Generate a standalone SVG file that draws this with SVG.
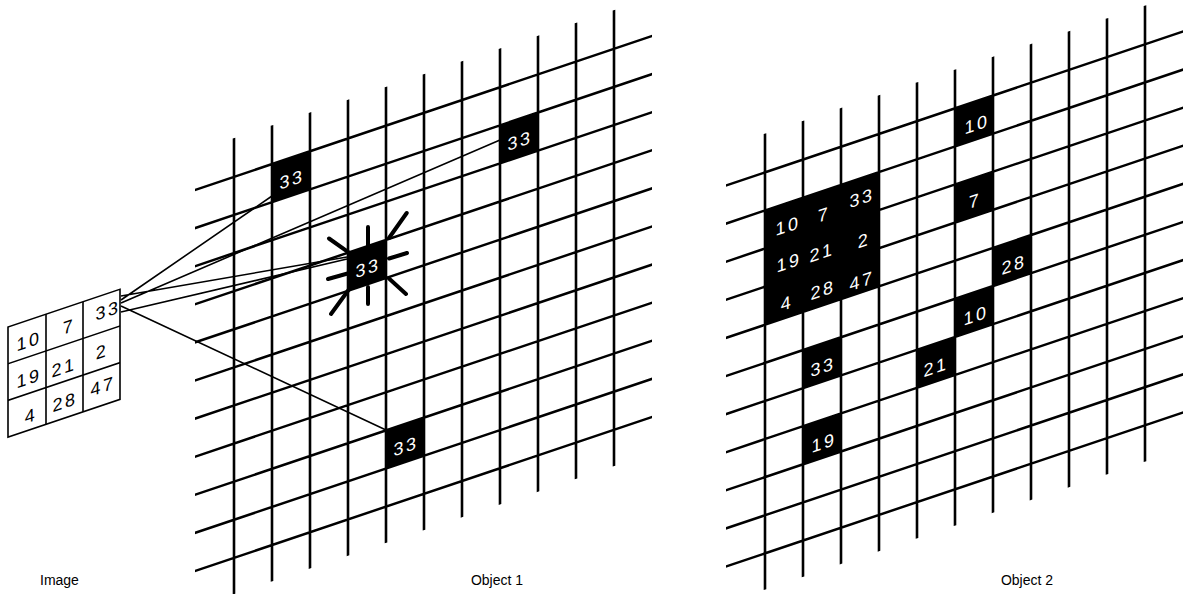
<svg xmlns="http://www.w3.org/2000/svg" width="1189" height="594" viewBox="0 0 1189 594">
<defs>
<style>
.g{stroke:#000;stroke-width:2.6;fill:none}
.ig{stroke:#000;stroke-width:1.6;fill:none}
.c{stroke:#000;stroke-width:1.6;fill:none}
.ray{stroke:#000;stroke-width:4;stroke-linecap:round;fill:none}
.cell{fill:#000}
.num{fill:#fff;font-family:"Liberation Sans",Arial,sans-serif;font-size:18px;text-anchor:middle;letter-spacing:2.5px}
.inum{fill:#000;font-family:"Liberation Sans",Arial,sans-serif;font-size:18px;text-anchor:middle;letter-spacing:2.5px}
.lbl{fill:#000;font-family:"Liberation Sans",Arial,sans-serif;font-size:14px}
</style>
<path id="grid" d="M195 255.7H652M195 293.8H652M195 331.9H652M195 370H652M195 408.1H652M195 446.2H652M195 484.3H652M195 522.4H652M195 560.5H652M195 598.6H652M195 636.7H652M234 217V673M272 217V673M310 217V673M348 217V673M386 217V673M424 217V673M462 217V673M500 217V673M538 217V673M576 217V673M614 217V673"/>
</defs>
<rect width="1189" height="594" fill="#fff"/>

<g id="image" transform="matrix(1,-0.337,0,1,0,0)">
<rect class="ig" x="8" y="329.7" width="112" height="110.1"/>
<path class="ig" d="M46 329.7V439.8M83 329.7V439.8M8 366.4H120M8 403.1H120"/>
<text class="inum" x="29" y="357">10</text>
<text class="inum" x="69" y="356">7</text>
<text class="inum" x="108" y="353">33</text>
<text class="inum" x="29" y="394">19</text>
<text class="inum" x="64" y="395">21</text>
<text class="inum" x="102" y="392">2</text>
<text class="inum" x="31" y="432">4</text>
<text class="inum" x="65" y="430">28</text>
<text class="inum" x="103" y="427">47</text>
</g>

<g id="connectors">
<path class="c" d="M121 300L272 196M121 303L500 140M121 296L347 257M121 312L347 259M121 306L386 430"/>
</g>

<g id="object1">
<g transform="matrix(1,-0.337,0,1,0,0)">
<use href="#grid" class="g"/>
<rect class="cell" x="272" y="255.7" width="38" height="38.1"/>
<rect class="cell" x="500" y="293.8" width="38" height="38.1"/>
<rect class="cell" x="348" y="370" width="38" height="38.1"/>
<rect class="cell" x="386" y="560.5" width="38" height="38.1"/>
<text class="num" x="292" y="284">33</text>
<text class="num" x="520" y="322">33</text>
<text class="num" x="368" y="398">33</text>
<text class="num" x="406" y="589">33</text>
</g>
<path class="ray" d="M368 227V247M406.7 213L389 238M407 253L389 258.5M406 294L389 278.5M368 304V287M331 314L348.5 290M328 279L348.5 273.3M329 238.5L350 253.3"/>
</g>

<g id="object2">
<g transform="translate(531,-4.5) matrix(1,-0.337,0,1,0,0)">
<use href="#grid" class="g"/>
<rect class="cell" x="234" y="293.8" width="114" height="114.3"/>
<rect class="cell" x="424" y="255.7" width="38" height="38.1"/>
<rect class="cell" x="424" y="331.9" width="38" height="38.1"/>
<rect class="cell" x="462" y="408.1" width="38" height="38.1"/>
<rect class="cell" x="424" y="446.2" width="38" height="38.1"/>
<rect class="cell" x="386" y="484.3" width="38" height="38.1"/>
<rect class="cell" x="272" y="446.2" width="38" height="38.1"/>
<rect class="cell" x="272" y="522.4" width="38" height="38.1"/>
<text class="num" x="257" y="323">10</text>
<text class="num" x="293" y="324">7</text>
<text class="num" x="331" y="320">33</text>
<text class="num" x="258" y="360">19</text>
<text class="num" x="291" y="361">21</text>
<text class="num" x="333" y="363">2</text>
<text class="num" x="256" y="400">4</text>
<text class="num" x="292" y="399">28</text>
<text class="num" x="331" y="403">47</text>
<text class="num" x="446" y="285">10</text>
<text class="num" x="444" y="361">7</text>
<text class="num" x="483" y="438">28</text>
<text class="num" x="445" y="476">10</text>
<text class="num" x="405" y="514">21</text>
<text class="num" x="292" y="476">33</text>
<text class="num" x="293" y="552">19</text>
</g>
</g>

<g id="labels">
<text class="lbl" x="40" y="585">Image</text>
<text class="lbl" x="497" y="585" text-anchor="middle">Object 1</text>
<text class="lbl" x="1027" y="585" text-anchor="middle">Object 2</text>
</g>
</svg>
